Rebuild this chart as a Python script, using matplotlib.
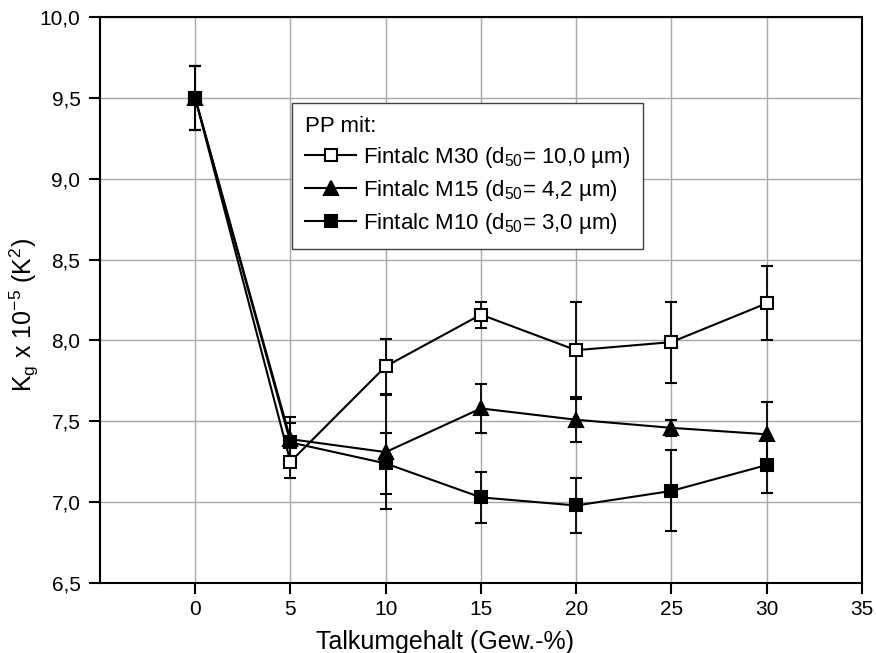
import matplotlib
matplotlib.use("Agg")
import matplotlib.pyplot as plt
from matplotlib.ticker import FuncFormatter

plt.rcParams['font.family'] = ['Liberation Sans', 'DejaVu Sans']
plt.rcParams['mathtext.default'] = 'regular'

# Talkgehalt in Gew.-%
talk = [0, 5, 10, 15, 20, 25, 30]

# Kg x 10^-5 mit Fehlerbalken
m30 = [9.50, 7.25, 7.84, 8.16, 7.94, 7.99, 8.23]
m30_err = [0.20, 0.10, 0.17, 0.08, 0.30, 0.25, 0.23]
m15 = [9.50, 7.39, 7.31, 7.58, 7.51, 7.46, 7.42]
m15_err = [0.20, 0.14, 0.35, 0.15, 0.14, 0.05, 0.20]
m10 = [9.50, 7.37, 7.24, 7.03, 6.98, 7.07, 7.23]
m10_err = [0.20, 0.12, 0.19, 0.16, 0.17, 0.25, 0.17]

labels = ['Fintalc M30 (d$_{50}$= 10,0 µm)',
          'Fintalc M15 (d$_{50}$= 4,2 µm)',
          'Fintalc M10 (d$_{50}$= 3,0 µm)']

fig = plt.figure(figsize=(8.76, 6.53), dpi=100)
ax = fig.add_axes([0.114, 0.107, 0.87, 0.867])

ax.grid(True, color='#a8a8a8', lw=1.0)
ax.set_axisbelow(True)

stil = dict(color='black', lw=1.5, capsize=4.5, elinewidth=1.3,
            capthick=1.3, markeredgewidth=1.5)
c1 = ax.errorbar(talk, m30, yerr=m30_err, marker='s', ms=9, mfc='white',
                 mec='black', **stil)
c2 = ax.errorbar(talk, m15, yerr=m15_err, marker='^', ms=10, mfc='black',
                 mec='black', **stil)
c3 = ax.errorbar(talk, m10, yerr=m10_err, marker='s', ms=9, mfc='black',
                 mec='black', **stil)

ax.set_xlim(-5, 35)
ax.set_ylim(6.5, 10.0)
ax.set_xticks([0, 5, 10, 15, 20, 25, 30, 35])
ax.set_yticks([6.5, 7.0, 7.5, 8.0, 8.5, 9.0, 9.5, 10.0])
ax.yaxis.set_major_formatter(FuncFormatter(lambda v, p: f"{v:.1f}".replace('.', ',')))
ax.tick_params(direction='out', length=8, width=1.5, labelsize=15, colors='black')
ax.tick_params(axis='x', pad=4)
ax.tick_params(axis='y', pad=6)
for s in ax.spines.values():
    s.set_linewidth(1.5)
    s.set_color('black')

ax.set_xlabel('Talkumgehalt (Gew.-%)', fontsize=18)
ax.set_ylabel('K$_g$ x 10$^{-5}$ (K$^2$)', fontsize=18)
ax.xaxis.set_label_coords(0.453, -0.083)
ax.yaxis.set_label_coords(-0.077, 0.473)

leg = ax.legend([c1.lines[0], c2.lines[0], c3.lines[0]], labels,
                loc='upper left', bbox_to_anchor=(0.252, 0.848), borderaxespad=0,
                title='PP mit:', fontsize=16, title_fontsize=16, frameon=True,
                fancybox=False, edgecolor='#404040', framealpha=1,
                handlelength=2.3, borderpad=0.6, labelspacing=0.35,
                handletextpad=0.3)
leg._legend_box.align = 'left'
leg.get_frame().set_linewidth(1.0)

fig.savefig('out.png', dpi=100)
